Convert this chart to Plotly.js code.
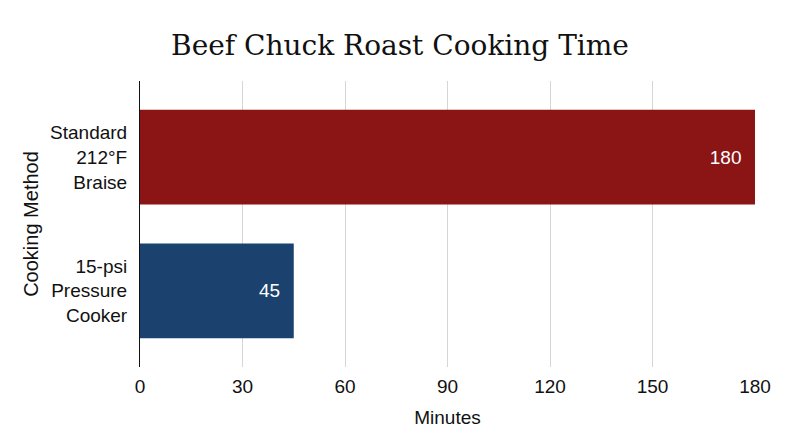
<!DOCTYPE html>
<html>
<head>
<meta charset="utf-8">
<script src="https://cdn.plot.ly/plotly-3.0.1.min.js"></script>
<style>
  html, body { margin: 0; padding: 0; background: #fff; }
  #chart { width: 800px; height: 447px; }
</style>
</head>
<body>
<div id="chart"></div>
<script>
// cooking methods, top to bottom
const methods = ['Standard<br>212°F<br>Braise', '15-psi<br>Pressure<br>Cooker'];
const minutes = [180, 45];
const barColors = ['#8B1515', '#1B426E'];
const tickVals = [0, 30, 60, 90, 120, 150, 180];

const trace = {
    type: 'bar',
    orientation: 'h',
    y: methods,
    x: minutes,
    marker: {color: barColors},
    // nbsp pads the label away from the bar end
    text: minutes.map(v => v + '\u00a0\u00a0'),
    textposition: 'inside',
    insidetextanchor: 'end',
    textfont: {color: '#ffffff', size: 19, family: 'Liberation Sans, Arial, sans-serif'},
    hoverinfo: 'x+y'
};

const layout = {
    width: 800,
    height: 447,
    margin: {l: 140, r: 45, t: 81, b: 80},
    paper_bgcolor: '#ffffff',
    plot_bgcolor: '#ffffff',
    bargap: 0.29,
    showlegend: false,
    font: {family: 'Liberation Sans, Arial, sans-serif', color: '#111111'},
    title: {
        text: 'Beef Chuck Roast Cooking Time',
        x: 0.5,
        xref: 'container',
        y: 0.9,
        yanchor: 'middle',
        font: {family: 'DejaVu Serif, Georgia, serif', size: 28, color: '#111111'}
    },
    xaxis: {
        range: [0, 180],
        tickvals: tickVals,
        showgrid: true,
        gridcolor: '#d6d6d6',
        gridwidth: 1,
        zeroline: false,
        showline: false,
        ticks: '',
        ticklabelstandoff: 6,
        tickfont: {size: 19, color: '#111111'},
        title: {text: 'Minutes', font: {size: 19, color: '#111111'}, standoff: 14}
    },
    yaxis: {
        autorange: false,
        range: [1.57, -0.57],
        type: 'category',
        showgrid: false,
        zeroline: false,
        showline: true,
        linecolor: '#111111',
        linewidth: 1,
        ticks: '',
        ticklabelstandoff: 8,
        tickfont: {size: 19, color: '#111111'},
        title: {text: 'Cooking Method', font: {size: 20, color: '#111111'}, standoff: 6}
    }
};

Plotly.newPlot('chart', [trace], layout, {displayModeBar: false, staticPlot: true});
</script>
</body>
</html>
